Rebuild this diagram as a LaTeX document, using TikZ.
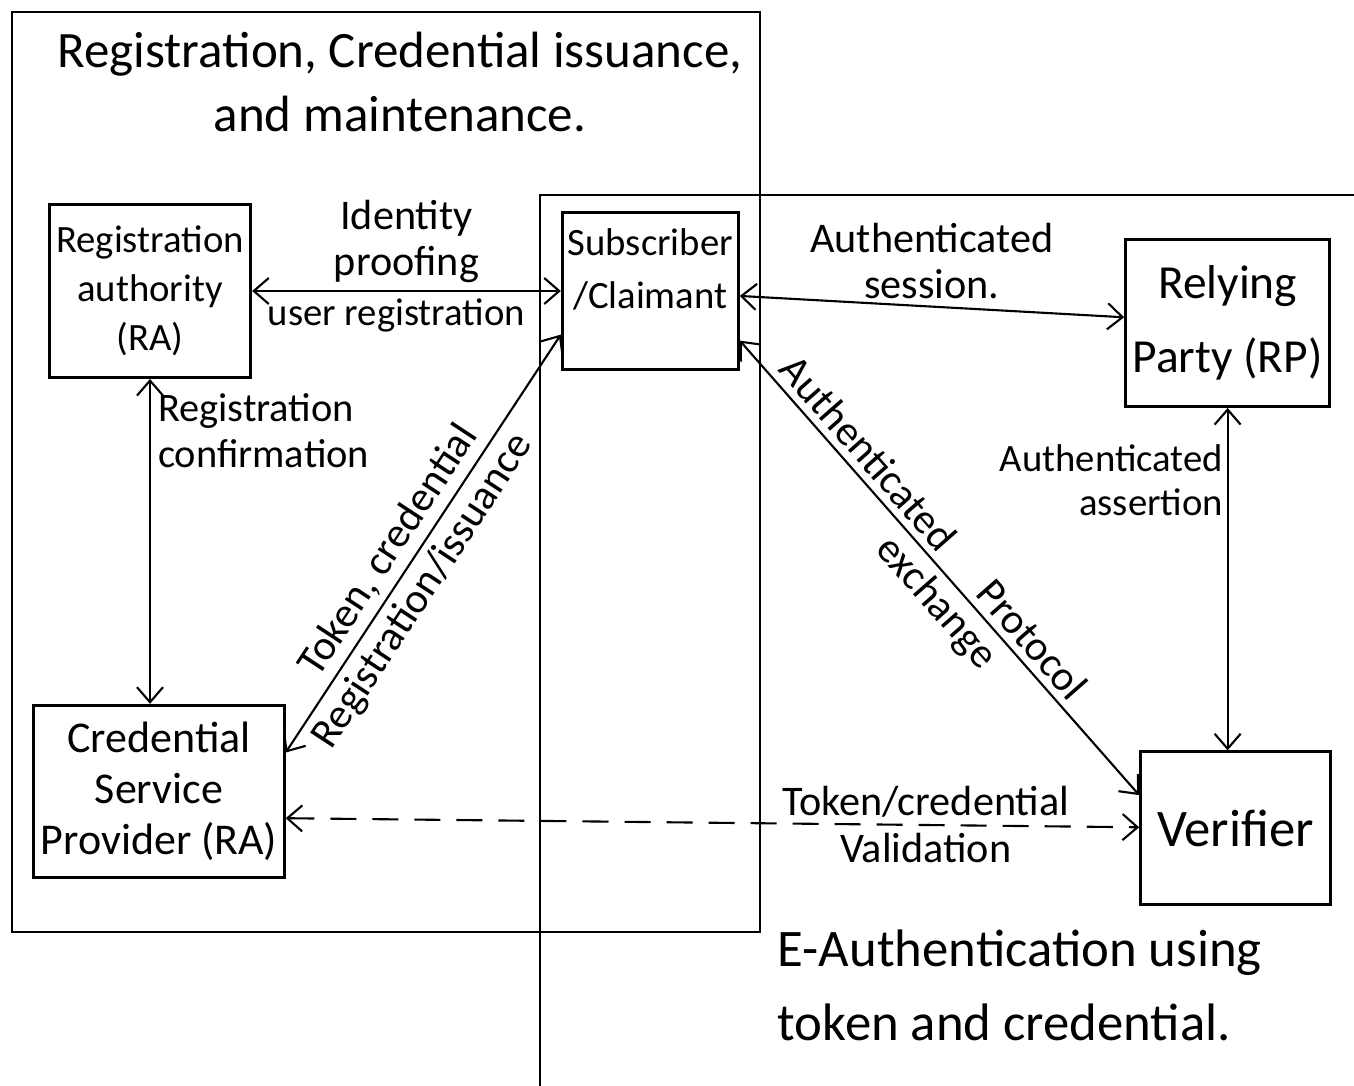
\documentclass[tikz,border=0pt]{standalone}
\usepackage{fontspec}
\setmainfont{Carlito}
\usetikzlibrary{arrows.meta,positioning}

\begin{document}
\begin{tikzpicture}[
            x=0.01cm, y=-0.01cm,
            node distance=5cm,
            font=\fontsize{12}{13}\selectfont,
            box/.style={rectangle, draw=black, line width=0.8pt, text centered, align=center, inner sep=2pt},
            frame/.style={draw=black, line width=0.8pt},
            lbl/.style={align=center, inner sep=2pt},
            arrow/.style={line width=0.6pt, <->, >={Straight Barb[length=1.5mm, width=2.6mm]}},
            dasharrow/.style={arrow, dash pattern=on 2.6mm off 1.6mm}
        ]
        \useasboundingbox (0,0) rectangle (1354,1086);

        % Frames
        \draw [frame] (12,12) rectangle (760,932);
        \draw [frame] (1354,195) -- (540,195) -- (540,1086);

        % Nodes
        \node (ra) [box, minimum width=2cm, minimum height=1.73cm, font=\fontsize{11}{14}\selectfont] at (150,291) {Registration\\authority\\(RA)};
        \node (sub_claim) [box, minimum width=1.76cm, minimum height=1.57cm, right of=ra] {};
        \node (sub_txt) [lbl, font=\fontsize{11}{15}\selectfont, below=0.1cm of sub_claim.north] {Subscriber\\/Claimant};
        \node (rp) [box, minimum width=1.89cm, minimum height=1.67cm, right of=sub_claim, xshift=0.77cm, yshift=-0.32cm, font=\fontsize{13.5}{21}\selectfont] {Relying\\Party (RP)};
        \node (csp) [box, minimum width=2.48cm, minimum height=1.72cm, below of=ra, xshift=0.09cm, font=\fontsize{12.5}{14.5}\selectfont] {Credential\\Service\\Provider (RA)};
        \node (verifier) [box, minimum width=1.9cm, minimum height=1.53cm, below of=rp, xshift=0.08cm, yshift=-0.05cm, font=\fontsize{15}{18}\selectfont] {Verifier};

        \node (title) [lbl, font=\fontsize{14.5}{18}\selectfont] at (400,82) {Registration, Credential issuance,\\and maintenance.};
        \node (caption) [lbl, align=left, anchor=west, font=\fontsize{15}{21}\selectfont] at (770,985) {E-Authentication using\\token and credential.};

        % Connections
        \draw [arrow] (ra) -- node[lbl, above] {Identity\\proofing} node[lbl, below, font=\fontsize{11}{12}\selectfont, xshift=-0.1cm] {user registration} (sub_claim);
        \draw [arrow] (sub_claim) -- node[lbl, above] {Authenticated\\session.} (rp);
        \draw [arrow] (ra.south) -- node[lbl, right, pos=0.16, align=left, font=\fontsize{11.5}{13}\selectfont] {Registration\\confirmation} (csp.north -| ra.south);
        \draw [arrow] (csp.17) -- node[lbl, above, sloped, pos=0.45] {Token, credential} node[lbl, below, sloped, pos=0.42] {Registration/issuance} (sub_claim.206);
        \draw [arrow] (sub_claim.-29) -- node[lbl, above, sloped, pos=0.28] {Authenticated} node[lbl, above, sloped, pos=0.69] {Protocol} node[lbl, below, sloped, pos=0.54] {exchange} (verifier.161);
        \draw [arrow] (rp.south) -- node[lbl, left, pos=0.21, align=right, inner sep=1pt, font=\fontsize{11}{12.5}\selectfont] {Authenticated\\assertion} (rp.south |- verifier.north);
        \draw [dasharrow] (csp.-12) -- node[lbl, above, pos=0.75] {Token/credential} node[lbl, below, pos=0.75] {Validation} (verifier);

    \end{tikzpicture}
\end{document}
